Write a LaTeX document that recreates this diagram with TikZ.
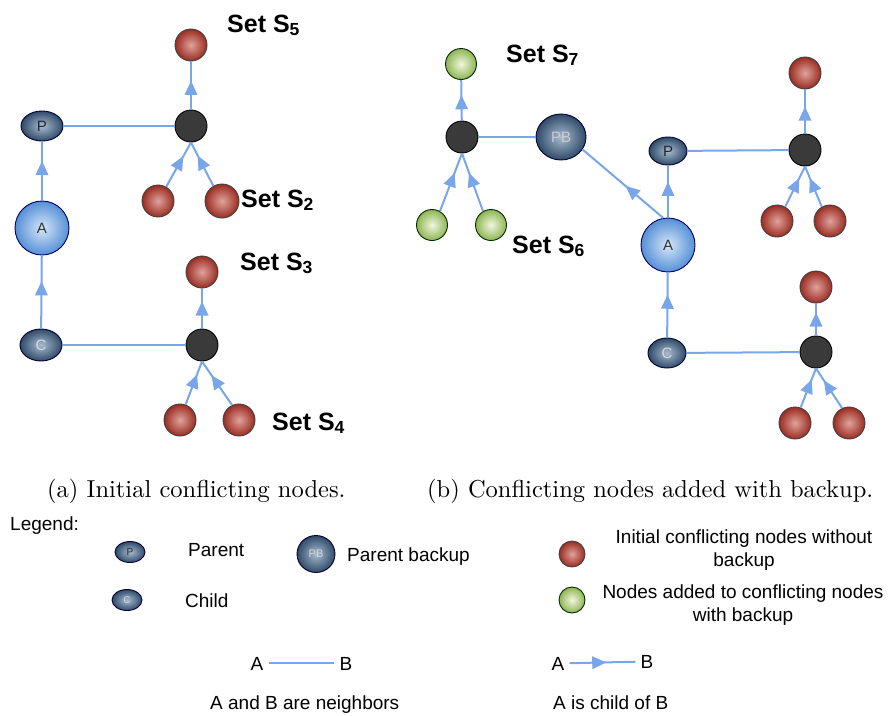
\documentclass[tikz,border=0pt]{standalone}
\usepackage{fontspec}
\newfontfamily\arialf{Liberation Sans}
\newfontfamily\capfont{lmroman10-regular}[Extension=.otf]
\usetikzlibrary{arrows.meta,decorations.markings,shapes.geometric}
\definecolor{edgeblue}{HTML}{78A6E8}
\definecolor{redout}{HTML}{9A2C22}
\definecolor{redin}{HTML}{E0A39B}
\definecolor{greenout}{HTML}{8EB552}
\definecolor{greenin}{HTML}{F0F7E0}
\definecolor{blueout}{HTML}{2F4A68}
\definecolor{bluein}{HTML}{A8BCD2}
\definecolor{aout}{HTML}{5590D6}
\definecolor{ain}{HTML}{D6E6F8}
\definecolor{darkball}{HTML}{3A3A3A}
\tikzset{
  redball/.style={circle, inner sep=0pt, minimum size=#1, draw=black!75, line width=0.9pt, inner color=redin, outer color=redout},
  redball/.default=32pt,
  greenball/.style={circle, inner sep=0pt, minimum size=#1, draw=black!60!green!40!black, line width=0.9pt, inner color=greenin, outer color=greenout},
  greenball/.default=31pt,
  darkdot/.style={circle, inner sep=0pt, minimum size=32pt, draw=black, line width=0.9pt, fill=darkball},
  blueell/.style={ellipse, inner sep=0pt, draw=black!80!blue, line width=0.9pt, inner color=bluein, outer color=blueout, font=\arialf\fontsize{15}{17}\selectfont},
  anode/.style={circle, inner sep=0pt, minimum size=54pt, draw=black!60!blue, line width=0.9pt, inner color=ain, outer color=aout, font=\arialf\fontsize{15}{17}\selectfont, text=black!80},
  nbr/.style={draw=edgeblue, line width=2pt},
  childedge/.style={nbr, postaction={decorate, decoration={markings, mark=at position #1 with {\fill[edgeblue] (7pt,0pt) -- (-7pt,6.5pt) -- (-7pt,-6.5pt) -- cycle;}}}},
  childedge/.default=0.55,
  setlabel/.style={anchor=base west, inner sep=0pt, font=\arialf\bfseries\fontsize{25}{28}\selectfont},
  legtext/.style={inner sep=0pt, font=\arialf\fontsize{19}{23}\selectfont},
  captext/.style={anchor=base west, inner sep=0pt, font=\capfont\fontsize{24.5}{28}\selectfont},
}
\begin{document}
\begin{tikzpicture}[x=1pt,y=-1pt]
\path[use as bounding box, fill=white] (0,0) rectangle (891,715);

% ---------- (a) ----------
\node[redball] (a_r5) at (191,45) {};
\node[darkdot] (a_b1) at (191,126) {};
\node[blueell, minimum width=42pt, minimum height=30pt, text=black!85] (a_P) at (42,126) {P};
\node[redball] (a_r21) at (158,201) {};
\node[redball=34pt] (a_r22) at (222,201) {};
\node[anode] (a_A) at (42,228) {A};
\node[redball] (a_r3) at (202,272) {};
\node[blueell, minimum width=42pt, minimum height=32pt, text=black!15] (a_C) at (41,345) {C};
\node[darkdot] (a_b2) at (202,345) {};
\node[redball] (a_r41) at (180,420) {};
\node[redball] (a_r42) at (239,420) {};

\node[setlabel] (s5) at (227,32) {Set S\textsubscript{5}};
\node[setlabel] (s2) at (241,207) {Set S\textsubscript{2}};
\node[setlabel] (s3) at (240,270) {Set S\textsubscript{3}};
\node[setlabel] (s4) at (272,430) {Set S\textsubscript{4}};

\draw[childedge] (a_A) -- (a_P);
\draw[childedge] (a_C) -- (a_A);
\draw[nbr] (a_P) -- (a_b1);
\draw[childedge=0.45] (a_b1) -- (a_r5);
\draw[childedge] (a_r21.60) -- (a_b1.south);
\draw[childedge] (a_r22.120) -- (a_b1.south);
\draw[nbr] (a_C) -- (a_b2);
\draw[childedge=0.5] (a_b2) -- (a_r3);
\draw[childedge] (a_r41.70) -- (a_b2.south);
\draw[childedge] (a_r42.115) -- (a_b2.south);

% ---------- (b) ----------
\node[greenball] (b_g7) at (461,64) {};
\node[darkdot] (b_b1) at (462,137) {};
\node[blueell, minimum width=50pt, minimum height=46pt, text=black!20] (b_PB) at (561,137) {PB};
\node[greenball] (b_g61) at (432,225) {};
\node[greenball] (b_g62) at (491,225) {};
\node[blueell, minimum width=38pt, minimum height=28pt, text=black!85] (b_P) at (668,151) {P};
\node[anode] (b_A) at (668,245) {A};
\node[darkdot] (b_b2) at (805,150) {};
\node[redball] (b_r5) at (805,73) {};
\node[redball] (b_r21) at (777,221) {};
\node[redball] (b_r22) at (830,221) {};
\node[blueell, minimum width=38pt, minimum height=30pt, text=black!15] (b_C) at (667,353) {C};
\node[darkdot] (b_b3) at (816,352) {};
\node[redball] (b_r3) at (816,287) {};
\node[redball] (b_r41) at (795,423) {};
\node[redball] (b_r42) at (849,423) {};

\node[setlabel] (s7) at (506,62) {Set S\textsubscript{7}};
\node[setlabel] (s6) at (512,253) {Set S\textsubscript{6}};

\draw[nbr] (b_b1) -- (b_PB);
\draw[childedge=0.45] (b_b1) -- (b_g7);
\draw[childedge] (b_g61.60) -- (b_b1.south);
\draw[childedge] (b_g62.120) -- (b_b1.south);
\draw[childedge=0.4] (b_A.100) -- (b_PB.-30);
\draw[childedge] (b_A) -- (b_P);
\draw[nbr] (b_P) -- (b_b2);
\draw[childedge=0.45] (b_b2) -- (b_r5);
\draw[childedge] (b_r21.60) -- (b_b2.south);
\draw[childedge] (b_r22.120) -- (b_b2.south);
\draw[childedge] (b_C) -- (b_A);
\draw[nbr] (b_C) -- (b_b3);
\draw[childedge=0.5] (b_b3) -- (b_r3);
\draw[childedge] (b_r41.70) -- (b_b3.south);
\draw[childedge] (b_r42.115) -- (b_b3.south);

% ---------- captions ----------
\node[captext] (capa) at (47,497) {(a) Initial conflicting nodes.};
\node[captext] (capb) at (427,497) {(b) Conflicting nodes added with backup.};

% ---------- legend ----------
\node[legtext, anchor=base west] (leg) at (10,530) {Legend:};
\node[blueell, minimum width=30pt, minimum height=21pt, font=\arialf\fontsize{10}{12}\selectfont, text=black!85] (lP) at (130,552) {P};
\node[legtext, anchor=base west] (lPt) at (188,556) {Parent};
\node[blueell, minimum width=38pt, minimum height=37pt, font=\arialf\fontsize{11}{13}\selectfont, text=black!15] (lPB) at (316,554) {PB};
\node[legtext, anchor=base west] (lPBt) at (347,561) {Parent backup};
\node[blueell, minimum width=30pt, minimum height=21pt, font=\arialf\fontsize{10}{12}\selectfont, text=black!15] (lC) at (127,600) {C};
\node[legtext, anchor=base west] (lCt) at (185,607) {Child};
\node[redball=26pt] (lr) at (572,554) {};
\node[legtext, align=center, anchor=north] (lrt) at (744,530) {Initial conflicting nodes without\\backup};
\node[greenball=26pt] (lg) at (572,600) {};
\node[legtext, align=center, anchor=north] (lgt) at (743,585) {Nodes added to conflicting nodes\\with backup};

\node[legtext, anchor=base, inner xsep=5pt] (nA) at (257,670) {A};
\node[legtext, anchor=base, inner xsep=5pt] (nB) at (346,670) {B};
\draw[nbr] (nA) -- (nB);
\node[legtext, anchor=base west] (nt) at (210,709) {A and B are neighbors};

\node[legtext, anchor=base, inner xsep=5pt] (cA) at (558,670) {A};
\node[legtext, anchor=base, inner xsep=5pt] (cB) at (647,668) {B};
\draw[childedge=0.45] (cA) -- (cB);
\node[legtext, anchor=base west] (ct) at (553,709) {A is child of B};
\end{tikzpicture}
\end{document}
